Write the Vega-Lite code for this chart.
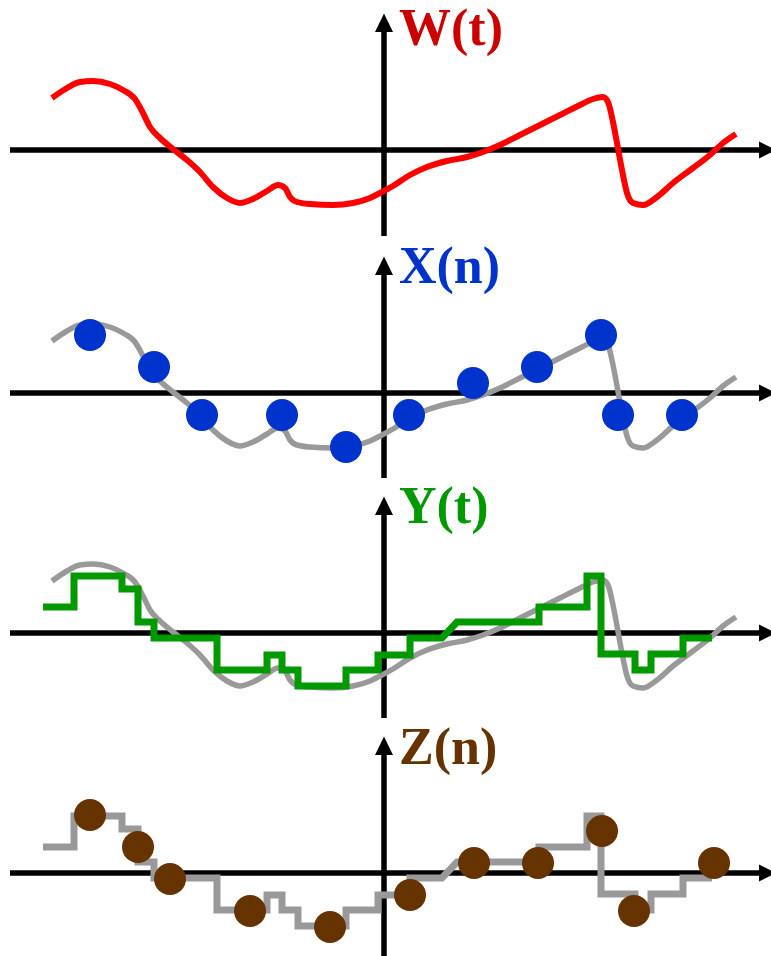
{
  "$schema": "https://vega.github.io/schema/vega-lite/v6.json",
  "padding": 0,
  "spacing": 0,
  "bounds": "flush",
  "background": "white",
  "config": {"view": {"stroke": null}},
  "datasets": {
    "curve": [
      {"t": -332, "v": 52}, {"t": -317, "v": 62}, {"t": -304, "v": 68}, {"t": -291, "v": 69},
      {"t": -274, "v": 66}, {"t": -261, "v": 60}, {"t": -249, "v": 51}, {"t": -241, "v": 37},
      {"t": -234, "v": 23}, {"t": -224, "v": 12}, {"t": -211, "v": 1}, {"t": -197, "v": -10},
      {"t": -184, "v": -22}, {"t": -171, "v": -37}, {"t": -157, "v": -48}, {"t": -144, "v": -53},
      {"t": -131, "v": -49}, {"t": -117, "v": -41}, {"t": -106, "v": -35}, {"t": -99, "v": -38},
      {"t": -94, "v": -47}, {"t": -87, "v": -52}, {"t": -74, "v": -54}, {"t": -51, "v": -55},
      {"t": -31, "v": -53}, {"t": -14, "v": -48}, {"t": -4, "v": -43}, {"t": 9, "v": -36},
      {"t": 26, "v": -25}, {"t": 43, "v": -17}, {"t": 63, "v": -11}, {"t": 83, "v": -7},
      {"t": 99, "v": -2}, {"t": 116, "v": 5}, {"t": 136, "v": 15}, {"t": 156, "v": 25},
      {"t": 176, "v": 35}, {"t": 196, "v": 45}, {"t": 209, "v": 51}, {"t": 219, "v": 53},
      {"t": 224, "v": 48}, {"t": 229, "v": 28}, {"t": 233, "v": 7}, {"t": 238, "v": -20},
      {"t": 243, "v": -43}, {"t": 249, "v": -53}, {"t": 259, "v": -55}, {"t": 273, "v": -47},
      {"t": 289, "v": -33}, {"t": 309, "v": -18}, {"t": 326, "v": -5}, {"t": 339, "v": 7},
      {"t": 352, "v": 16}
    ],
    "xdots": [
      {"t": -294, "v": 58}, {"t": -230, "v": 26}, {"t": -182, "v": -22}, {"t": -102, "v": -22},
      {"t": -38, "v": -54}, {"t": 25, "v": -22}, {"t": 89, "v": 10}, {"t": 153, "v": 26},
      {"t": 217, "v": 58}, {"t": 234, "v": -22}, {"t": 298, "v": -22}
    ],
    "steps": [
      {"i": 0, "t": -341, "v": 26}, {"i": 1, "t": -310, "v": 26}, {"i": 2, "t": -310, "v": 57},
      {"i": 3, "t": -262, "v": 57}, {"i": 4, "t": -262, "v": 44}, {"i": 5, "t": -246, "v": 44},
      {"i": 6, "t": -246, "v": 11}, {"i": 7, "t": -230, "v": 11}, {"i": 8, "t": -230, "v": -5},
      {"i": 9, "t": -167, "v": -5}, {"i": 10, "t": -167, "v": -37}, {"i": 11, "t": -117, "v": -37},
      {"i": 12, "t": -117, "v": -22}, {"i": 13, "t": -102, "v": -22}, {"i": 14, "t": -102, "v": -37},
      {"i": 15, "t": -86, "v": -37}, {"i": 16, "t": -86, "v": -53}, {"i": 17, "t": -38, "v": -53},
      {"i": 18, "t": -38, "v": -37}, {"i": 19, "t": -6, "v": -37}, {"i": 20, "t": -6, "v": -22},
      {"i": 21, "t": 26, "v": -22}, {"i": 22, "t": 26, "v": -5}, {"i": 23, "t": 58, "v": -5},
      {"i": 24, "t": 73, "v": 11}, {"i": 25, "t": 155, "v": 11}, {"i": 26, "t": 155, "v": 26},
      {"i": 27, "t": 203, "v": 26}, {"i": 28, "t": 203, "v": 57}, {"i": 29, "t": 217, "v": 57},
      {"i": 30, "t": 217, "v": -21}, {"i": 31, "t": 251, "v": -21}, {"i": 32, "t": 251, "v": -37},
      {"i": 33, "t": 267, "v": -37}, {"i": 34, "t": 267, "v": -21}, {"i": 35, "t": 299, "v": -21},
      {"i": 36, "t": 299, "v": -5}, {"i": 37, "t": 328, "v": -5}
    ],
    "zdots": [
      {"t": -294, "v": 58}, {"t": -246, "v": 26}, {"t": -214, "v": -6}, {"t": -134, "v": -38},
      {"t": -54, "v": -54}, {"t": 26, "v": -22}, {"t": 90, "v": 10}, {"t": 154, "v": 10},
      {"t": 218, "v": 42}, {"t": 250, "v": -38}, {"t": 330, "v": 10}
    ]
  },
  "resolve": {"scale": {"x": "independent", "y": "independent"}},
  "vconcat": [
    {
      "width": 771, "height": 240,
      "layer": [
        {"data": {"values": [{}]}, "mark": {"type": "rule", "strokeWidth": 5.5, "color": "black"},
         "encoding": {"x": {"datum": -374, "type": "quantitative", "scale": {"domain": [-384, 387], "nice": false}, "axis": null}, "x2": {"datum": 376},
                      "y": {"datum": 0, "type": "quantitative", "scale": {"domain": [-90, 150], "nice": false}, "axis": null}}},
        {"data": {"values": [{}]}, "mark": {"type": "rule", "strokeWidth": 5.5, "color": "black"},
         "encoding": {"x": {"datum": 0, "type": "quantitative", "scale": {"domain": [-384, 387], "nice": false}, "axis": null},
                      "y": {"datum": -86, "type": "quantitative", "scale": {"domain": [-90, 150], "nice": false}, "axis": null}, "y2": {"datum": 119}}},
        {"data": {"values": [{}]}, "mark": {"type": "point", "shape": "M0,-1.06L1,1L-1,1Z", "size": 324, "filled": true, "color": "black", "opacity": 1, "strokeWidth": 0},
         "encoding": {"x": {"datum": 0, "type": "quantitative", "scale": {"domain": [-384, 387], "nice": false}, "axis": null},
                      "y": {"datum": 127, "type": "quantitative", "scale": {"domain": [-90, 150], "nice": false}, "axis": null}}},
        {"data": {"values": [{}]}, "mark": {"type": "point", "shape": "M1,0L-1,-1L-1,1Z", "size": 289, "filled": true, "color": "black", "opacity": 1, "strokeWidth": 0},
         "encoding": {"x": {"datum": 383.5, "type": "quantitative", "scale": {"domain": [-384, 387], "nice": false}, "axis": null},
                      "y": {"datum": 0, "type": "quantitative", "scale": {"domain": [-90, 150], "nice": false}, "axis": null}}},
        {"data": {"name": "curve"}, "mark": {"type": "line", "interpolate": "monotone", "strokeWidth": 6, "color": "#FF0000", "strokeCap": "butt", "strokeJoin": "round"},
         "encoding": {"x": {"field": "t", "type": "quantitative", "scale": {"domain": [-384, 387], "nice": false}, "axis": null},
                      "y": {"field": "v", "type": "quantitative", "scale": {"domain": [-90, 150], "nice": false}, "axis": null}}},
        {"data": {"values": [{}]}, "mark": {"type": "text", "font": "Liberation Serif", "fontWeight": "bold", "fontSize": 52, "align": "left", "baseline": "alphabetic", "color": "#CC0000"},
         "encoding": {"x": {"datum": 15, "type": "quantitative", "scale": {"domain": [-384, 387], "nice": false}, "axis": null},
                      "y": {"datum": 105, "type": "quantitative", "scale": {"domain": [-90, 150], "nice": false}, "axis": null},
                      "text": {"value": "W(t)"}}}
      ]
    },
    {
      "width": 771, "height": 240,
      "layer": [
        {"data": {"values": [{}]}, "mark": {"type": "rule", "strokeWidth": 5.5, "color": "black"},
         "encoding": {"x": {"datum": -374, "type": "quantitative", "scale": {"domain": [-384, 387], "nice": false}, "axis": null}, "x2": {"datum": 376},
                      "y": {"datum": 0, "type": "quantitative", "scale": {"domain": [-87, 153], "nice": false}, "axis": null}}},
        {"data": {"values": [{}]}, "mark": {"type": "rule", "strokeWidth": 5.5, "color": "black"},
         "encoding": {"x": {"datum": 0, "type": "quantitative", "scale": {"domain": [-384, 387], "nice": false}, "axis": null},
                      "y": {"datum": -85, "type": "quantitative", "scale": {"domain": [-87, 153], "nice": false}, "axis": null}, "y2": {"datum": 119}}},
        {"data": {"values": [{}]}, "mark": {"type": "point", "shape": "M0,-1.06L1,1L-1,1Z", "size": 324, "filled": true, "color": "black", "opacity": 1, "strokeWidth": 0},
         "encoding": {"x": {"datum": 0, "type": "quantitative", "scale": {"domain": [-384, 387], "nice": false}, "axis": null},
                      "y": {"datum": 127, "type": "quantitative", "scale": {"domain": [-87, 153], "nice": false}, "axis": null}}},
        {"data": {"values": [{}]}, "mark": {"type": "point", "shape": "M1,0L-1,-1L-1,1Z", "size": 289, "filled": true, "color": "black", "opacity": 1, "strokeWidth": 0},
         "encoding": {"x": {"datum": 383.5, "type": "quantitative", "scale": {"domain": [-384, 387], "nice": false}, "axis": null},
                      "y": {"datum": 0, "type": "quantitative", "scale": {"domain": [-87, 153], "nice": false}, "axis": null}}},
        {"data": {"name": "curve"}, "mark": {"type": "line", "interpolate": "monotone", "strokeWidth": 5.5, "color": "#999999", "strokeCap": "butt", "strokeJoin": "round"},
         "encoding": {"x": {"field": "t", "type": "quantitative", "scale": {"domain": [-384, 387], "nice": false}, "axis": null},
                      "y": {"field": "v", "type": "quantitative", "scale": {"domain": [-87, 153], "nice": false}, "axis": null}}},
        {"data": {"name": "xdots"}, "mark": {"type": "point", "shape": "circle", "size": 1024, "filled": true, "color": "#0033CC", "opacity": 1, "strokeWidth": 0},
         "encoding": {"x": {"field": "t", "type": "quantitative", "scale": {"domain": [-384, 387], "nice": false}, "axis": null},
                      "y": {"field": "v", "type": "quantitative", "scale": {"domain": [-87, 153], "nice": false}, "axis": null}}},
        {"data": {"values": [{}]}, "mark": {"type": "text", "font": "Liberation Serif", "fontWeight": "bold", "fontSize": 52, "align": "left", "baseline": "alphabetic", "color": "#0033CC"},
         "encoding": {"x": {"datum": 15, "type": "quantitative", "scale": {"domain": [-384, 387], "nice": false}, "axis": null},
                      "y": {"datum": 110, "type": "quantitative", "scale": {"domain": [-87, 153], "nice": false}, "axis": null},
                      "text": {"value": "X(n)"}}}
      ]
    },
    {
      "width": 771, "height": 240,
      "layer": [
        {"data": {"values": [{}]}, "mark": {"type": "rule", "strokeWidth": 5.5, "color": "black"},
         "encoding": {"x": {"datum": -374, "type": "quantitative", "scale": {"domain": [-384, 387], "nice": false}, "axis": null}, "x2": {"datum": 376},
                      "y": {"datum": 0, "type": "quantitative", "scale": {"domain": [-87, 153], "nice": false}, "axis": null}}},
        {"data": {"values": [{}]}, "mark": {"type": "rule", "strokeWidth": 5.5, "color": "black"},
         "encoding": {"x": {"datum": 0, "type": "quantitative", "scale": {"domain": [-384, 387], "nice": false}, "axis": null},
                      "y": {"datum": -85, "type": "quantitative", "scale": {"domain": [-87, 153], "nice": false}, "axis": null}, "y2": {"datum": 119}}},
        {"data": {"values": [{}]}, "mark": {"type": "point", "shape": "M0,-1.06L1,1L-1,1Z", "size": 324, "filled": true, "color": "black", "opacity": 1, "strokeWidth": 0},
         "encoding": {"x": {"datum": 0, "type": "quantitative", "scale": {"domain": [-384, 387], "nice": false}, "axis": null},
                      "y": {"datum": 127, "type": "quantitative", "scale": {"domain": [-87, 153], "nice": false}, "axis": null}}},
        {"data": {"values": [{}]}, "mark": {"type": "point", "shape": "M1,0L-1,-1L-1,1Z", "size": 289, "filled": true, "color": "black", "opacity": 1, "strokeWidth": 0},
         "encoding": {"x": {"datum": 383.5, "type": "quantitative", "scale": {"domain": [-384, 387], "nice": false}, "axis": null},
                      "y": {"datum": 0, "type": "quantitative", "scale": {"domain": [-87, 153], "nice": false}, "axis": null}}},
        {"data": {"name": "curve"}, "mark": {"type": "line", "interpolate": "monotone", "strokeWidth": 5.5, "color": "#999999", "strokeCap": "butt", "strokeJoin": "round"},
         "encoding": {"x": {"field": "t", "type": "quantitative", "scale": {"domain": [-384, 387], "nice": false}, "axis": null},
                      "y": {"field": "v", "type": "quantitative", "scale": {"domain": [-87, 153], "nice": false}, "axis": null}}},
        {"data": {"name": "steps"}, "mark": {"type": "line", "strokeWidth": 7, "color": "#009900", "strokeCap": "butt", "strokeJoin": "miter"},
         "encoding": {"x": {"field": "t", "type": "quantitative", "scale": {"domain": [-384, 387], "nice": false}, "axis": null},
                      "y": {"field": "v", "type": "quantitative", "scale": {"domain": [-87, 153], "nice": false}, "axis": null},
                      "order": {"field": "i", "type": "quantitative"}}},
        {"data": {"values": [{}]}, "mark": {"type": "text", "font": "Liberation Serif", "fontWeight": "bold", "fontSize": 52, "align": "left", "baseline": "alphabetic", "color": "#009900"},
         "encoding": {"x": {"datum": 15, "type": "quantitative", "scale": {"domain": [-384, 387], "nice": false}, "axis": null},
                      "y": {"datum": 110, "type": "quantitative", "scale": {"domain": [-87, 153], "nice": false}, "axis": null},
                      "text": {"value": "Y(t)"}}}
      ]
    },
    {
      "width": 771, "height": 236,
      "layer": [
        {"data": {"values": [{}]}, "mark": {"type": "rule", "strokeWidth": 5.5, "color": "black"},
         "encoding": {"x": {"datum": -374, "type": "quantitative", "scale": {"domain": [-384, 387], "nice": false}, "axis": null}, "x2": {"datum": 376},
                      "y": {"datum": 0, "type": "quantitative", "scale": {"domain": [-83, 153], "nice": false}, "axis": null}}},
        {"data": {"values": [{}]}, "mark": {"type": "rule", "strokeWidth": 5.5, "color": "black"},
         "encoding": {"x": {"datum": 0, "type": "quantitative", "scale": {"domain": [-384, 387], "nice": false}, "axis": null},
                      "y": {"datum": -83, "type": "quantitative", "scale": {"domain": [-83, 153], "nice": false}, "axis": null}, "y2": {"datum": 119}}},
        {"data": {"values": [{}]}, "mark": {"type": "point", "shape": "M0,-1.06L1,1L-1,1Z", "size": 324, "filled": true, "color": "black", "opacity": 1, "strokeWidth": 0},
         "encoding": {"x": {"datum": 0, "type": "quantitative", "scale": {"domain": [-384, 387], "nice": false}, "axis": null},
                      "y": {"datum": 127, "type": "quantitative", "scale": {"domain": [-83, 153], "nice": false}, "axis": null}}},
        {"data": {"values": [{}]}, "mark": {"type": "point", "shape": "M1,0L-1,-1L-1,1Z", "size": 289, "filled": true, "color": "black", "opacity": 1, "strokeWidth": 0},
         "encoding": {"x": {"datum": 383.5, "type": "quantitative", "scale": {"domain": [-384, 387], "nice": false}, "axis": null},
                      "y": {"datum": 0, "type": "quantitative", "scale": {"domain": [-83, 153], "nice": false}, "axis": null}}},
        {"data": {"name": "steps"}, "mark": {"type": "line", "strokeWidth": 7, "color": "#999999", "strokeCap": "butt", "strokeJoin": "miter"},
         "encoding": {"x": {"field": "t", "type": "quantitative", "scale": {"domain": [-384, 387], "nice": false}, "axis": null},
                      "y": {"field": "v", "type": "quantitative", "scale": {"domain": [-83, 153], "nice": false}, "axis": null},
                      "order": {"field": "i", "type": "quantitative"}}},
        {"data": {"name": "zdots"}, "mark": {"type": "point", "shape": "circle", "size": 1024, "filled": true, "color": "#663300", "opacity": 1, "strokeWidth": 0},
         "encoding": {"x": {"field": "t", "type": "quantitative", "scale": {"domain": [-384, 387], "nice": false}, "axis": null},
                      "y": {"field": "v", "type": "quantitative", "scale": {"domain": [-83, 153], "nice": false}, "axis": null}}},
        {"data": {"values": [{}]}, "mark": {"type": "text", "font": "Liberation Serif", "fontWeight": "bold", "fontSize": 52, "align": "left", "baseline": "alphabetic", "color": "#663300"},
         "encoding": {"x": {"datum": 15, "type": "quantitative", "scale": {"domain": [-384, 387], "nice": false}, "axis": null},
                      "y": {"datum": 109, "type": "quantitative", "scale": {"domain": [-83, 153], "nice": false}, "axis": null},
                      "text": {"value": "Z(n)"}}}
      ]
    }
  ]
}
